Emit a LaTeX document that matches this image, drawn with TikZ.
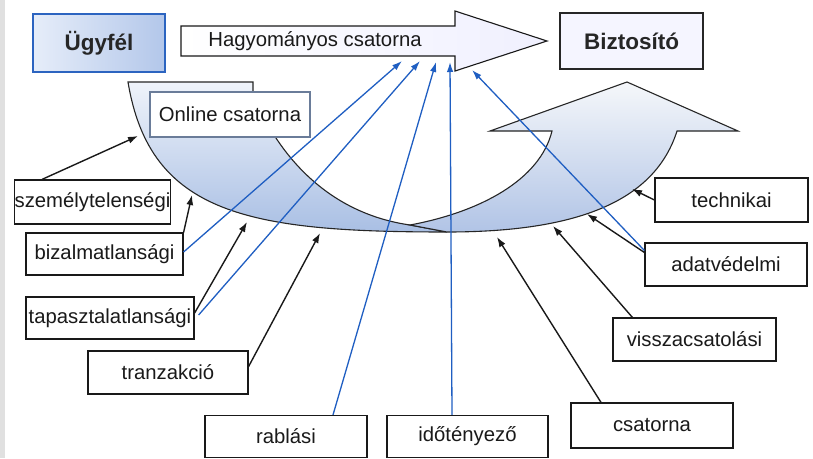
\documentclass[tikz,border=0pt]{standalone}
\usepackage{fontspec}
\setmainfont{Liberation Sans}
\usetikzlibrary{arrows.meta,calc}
\definecolor{bluel}{HTML}{1F5EC2}
\definecolor{ugyb}{HTML}{2C64C0}
\definecolor{ugyl}{HTML}{E6EDF9}
\definecolor{ugyr}{HTML}{B3C7EA}
\definecolor{lbtop}{HTML}{EFF3FA}
\definecolor{lbbot}{HTML}{A9BFE4}
\definecolor{rbtop}{HTML}{F5F7FA}
\definecolor{rbbot}{HTML}{B1C4E6}
\definecolor{onl}{HTML}{6A7C99}
\definecolor{txt}{HTML}{1A1A1A}
\begin{document}
\begin{tikzpicture}[x=1pt,y=-1pt,
  box/.style={draw=black!90, line width=1.2pt, fill=white, inner sep=0pt,
    font=\fontsize{20.3}{23}\selectfont, text=txt},
  hdr/.style={line width=1.8pt, inner sep=0pt, font=\bfseries\fontsize{22.5}{25}\selectfont, text=black!85},
  blk/.style={draw=black!90, line width=1.4pt, -{Latex[length=10pt,width=7pt]}},
  blu/.style={draw=bluel, line width=1.3pt, -{Latex[length=10pt,width=6.5pt]}},
  band/.style={draw=black!85, line width=1.1pt}]
\useasboundingbox (0,0) rectangle (813,458);
\fill[white] (0,0) rectangle (813,458);
\fill[black!12] (0,0) rectangle (5,458);

% bands
\path[band, top color=lbtop, bottom color=lbbot]
  (128,82) -- (253,82) -- (253,95) .. controls (285,170) and (340,215) .. (410,225)
  -- (447,232) .. controls (250,232) and (150,215) .. (128,82) -- cycle;
\path[band, top color=rbtop, bottom color=rbbot]
  (410,225) .. controls (480,212) and (540,180) .. (552,131) -- (490,131) -- (627,82)
  -- (738,131) -- (677,131) .. controls (655,200) and (580,232) .. (447,232) -- cycle;

% traditional channel arrow
\path[draw=black!90, line width=1.1pt, left color=white, right color=black!4!blue!6]
  (181,26) -- (455,26) -- (455,11) -- (547,41) -- (455,71) -- (455,56) -- (181,56) -- cycle;
\node[font=\fontsize{20.3}{23}\selectfont, text=txt] (hagy) at (315,41) {Hagyományos csatorna};

% header boxes
\node[hdr, draw=ugyb, left color=ugyl, right color=ugyr, minimum width=132pt, minimum height=58pt] (ugy) at (99,43) {Ügyfél};
\node[hdr, draw=black!85, fill=black!4!blue!4, minimum width=143pt, minimum height=56pt] (bizt) at (631.5,41) {Biztosító};
\node[box, draw=onl, line width=1.6pt, minimum width=160pt, minimum height=45pt] (online) at (230,114.5) {Online csatorna};

% label boxes
\node[box, minimum width=155pt, minimum height=44pt] (szem) at (92.5,202) {személytelenségi};
\node[box, minimum width=157pt, minimum height=42pt] (bizalm) at (104.5,254) {bizalmatlansági};
\node[box, minimum width=168pt, minimum height=42pt] (tapasz) at (110,318) {tapasztalatlansági};
\node[box, minimum width=160pt, minimum height=43pt] (tranz) at (168,372.5) {tranzakció};
\node[box, minimum width=162pt, minimum height=42pt] (rabl) at (286,436.5) {rablási};
\node[box, minimum width=161pt, minimum height=42pt] (idot) at (467.5,436.5) {időtényező};
\node[box, minimum width=162pt, minimum height=45pt] (csat) at (652,425.5) {csatorna};
\node[box, minimum width=163pt, minimum height=43pt] (vissz) at (694.5,339.5) {visszacsatolási};
\node[box, minimum width=162pt, minimum height=43pt] (adat) at (726,264.5) {adatvédelmi};
\node[box, minimum width=153pt, minimum height=44pt] (techn) at (731.5,200) {technikai};

% target points on the bands
\coordinate (tszem) at (138,136);
\coordinate (tbiz) at (192,195);
\coordinate (ttap) at (247,222);
\coordinate (ttr) at (320,233);
\coordinate (tcs) at (497,237);
\coordinate (tvi) at (553,226);
\coordinate (tad) at (587,214);
\coordinate (tte) at (632,189);
% target points on the traditional channel
\coordinate (h1) at (402,61);
\coordinate (h2) at (420,61);
\coordinate (h3) at (436,62);
\coordinate (h4) at (450,62);
\coordinate (h5) at (472,70);

% black arrows
\draw[blk] ($(szem.north west)+(28,0)$) -- (tszem);
\draw[blk] (bizalm.north east) -- (tbiz);
\draw[blk] ($(tapasz.east)+(0,-5)$) -- (ttap);
\draw[blk] ($(tranz.east)+(0,-6)$) -- (ttr);
\draw[blk] ($(csat.north)+(-51,0)$) -- (tcs);
\draw[blk] ($(vissz.north west)+(20,0)$) -- (tvi);
\draw[blk] ($(adat.west)+(0,-12)$) -- (tad);
\draw[blk] (techn.west) -- (tte);

% blue arrows
\draw[blu] ($(bizalm.east)+(0,-2)$) -- (h1);
\draw[blu] ($(tapasz.east)+(4,-3)$) -- (h2);
\draw[blu] ($(rabl.north)+(47,0)$) -- (h3);
\draw[blu] ($(idot.north)+(-15.5,0)$) -- (h4);
\draw[blu] ($(adat.west)+(0,-14)$) -- (h5);
\end{tikzpicture}
\end{document}
